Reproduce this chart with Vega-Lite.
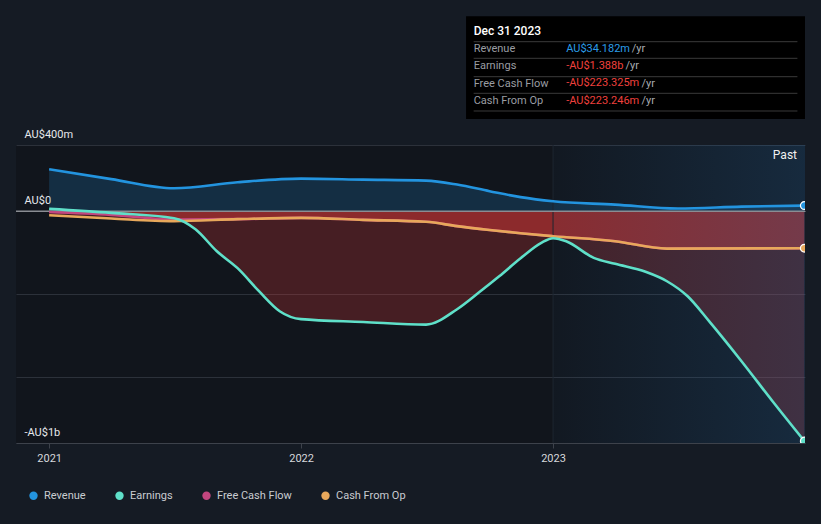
{
  "$schema": "https://vega.github.io/schema/vega-lite/v6.json",
  "width": 789,
  "height": 298,
  "autosize": {"type": "none"},
  "padding": {"left": 16, "top": 145, "right": 16, "bottom": 81},
  "background": "#151b24",
  "view": {"fill": "#11151c", "stroke": null},
  "config": {"font": "Roboto"},
  "datasets": {
    "series": [
      {"date": "2021-01-01", "series": "Free Cash Flow", "value": -5000000},
      {"date": "2021-04-01", "series": "Free Cash Flow", "value": -22000000},
      {"date": "2021-07-01", "series": "Free Cash Flow", "value": -50000000},
      {"date": "2021-10-01", "series": "Free Cash Flow", "value": -48000000},
      {"date": "2022-01-01", "series": "Free Cash Flow", "value": -40000000},
      {"date": "2022-04-01", "series": "Free Cash Flow", "value": -52000000},
      {"date": "2022-07-01", "series": "Free Cash Flow", "value": -64000000},
      {"date": "2022-08-15", "series": "Free Cash Flow", "value": -90000000},
      {"date": "2022-10-01", "series": "Free Cash Flow", "value": -113000000},
      {"date": "2022-11-15", "series": "Free Cash Flow", "value": -133000000},
      {"date": "2023-01-01", "series": "Free Cash Flow", "value": -151000000},
      {"date": "2023-04-01", "series": "Free Cash Flow", "value": -181000000},
      {"date": "2023-06-15", "series": "Free Cash Flow", "value": -226000000},
      {"date": "2023-12-31", "series": "Free Cash Flow", "value": -223325000},
      {"date": "2021-01-01", "series": "Cash From Op", "value": -24000000},
      {"date": "2021-04-01", "series": "Cash From Op", "value": -44000000},
      {"date": "2021-07-01", "series": "Cash From Op", "value": -60000000},
      {"date": "2021-10-01", "series": "Cash From Op", "value": -48000000},
      {"date": "2022-01-01", "series": "Cash From Op", "value": -40000000},
      {"date": "2022-04-01", "series": "Cash From Op", "value": -52000000},
      {"date": "2022-07-01", "series": "Cash From Op", "value": -64000000},
      {"date": "2022-08-15", "series": "Cash From Op", "value": -90000000},
      {"date": "2022-10-01", "series": "Cash From Op", "value": -113000000},
      {"date": "2022-11-15", "series": "Cash From Op", "value": -133000000},
      {"date": "2023-01-01", "series": "Cash From Op", "value": -151000000},
      {"date": "2023-04-01", "series": "Cash From Op", "value": -181000000},
      {"date": "2023-06-15", "series": "Cash From Op", "value": -226000000},
      {"date": "2023-12-31", "series": "Cash From Op", "value": -223246000},
      {"date": "2021-01-01", "series": "Earnings", "value": 14000000},
      {"date": "2021-04-01", "series": "Earnings", "value": -10000000},
      {"date": "2021-07-01", "series": "Earnings", "value": -42000000},
      {"date": "2021-08-01", "series": "Earnings", "value": -109000000},
      {"date": "2021-09-01", "series": "Earnings", "value": -242000000},
      {"date": "2021-10-01", "series": "Earnings", "value": -344000000},
      {"date": "2021-11-01", "series": "Earnings", "value": -483000000},
      {"date": "2021-12-01", "series": "Earnings", "value": -604000000},
      {"date": "2022-01-01", "series": "Earnings", "value": -652000000},
      {"date": "2022-04-01", "series": "Earnings", "value": -669000000},
      {"date": "2022-07-01", "series": "Earnings", "value": -685000000},
      {"date": "2022-08-15", "series": "Earnings", "value": -592000000},
      {"date": "2022-09-15", "series": "Earnings", "value": -493000000},
      {"date": "2022-10-15", "series": "Earnings", "value": -393000000},
      {"date": "2022-11-15", "series": "Earnings", "value": -284000000},
      {"date": "2022-12-15", "series": "Earnings", "value": -191000000},
      {"date": "2023-01-01", "series": "Earnings", "value": -163000000},
      {"date": "2023-01-20", "series": "Earnings", "value": -181000000},
      {"date": "2023-03-01", "series": "Earnings", "value": -282000000},
      {"date": "2023-04-01", "series": "Earnings", "value": -318000000},
      {"date": "2023-05-15", "series": "Earnings", "value": -366000000},
      {"date": "2023-06-15", "series": "Earnings", "value": -423000000},
      {"date": "2023-07-15", "series": "Earnings", "value": -514000000},
      {"date": "2023-08-15", "series": "Earnings", "value": -664000000},
      {"date": "2023-10-01", "series": "Earnings", "value": -906000000},
      {"date": "2023-11-15", "series": "Earnings", "value": -1148000000},
      {"date": "2023-12-31", "series": "Earnings", "value": -1388000000},
      {"date": "2021-01-01", "series": "Revenue", "value": 253000000},
      {"date": "2021-04-01", "series": "Revenue", "value": 194000000},
      {"date": "2021-07-01", "series": "Revenue", "value": 139000000},
      {"date": "2021-10-01", "series": "Revenue", "value": 175000000},
      {"date": "2022-01-01", "series": "Revenue", "value": 197000000},
      {"date": "2022-04-01", "series": "Revenue", "value": 191000000},
      {"date": "2022-07-01", "series": "Revenue", "value": 185000000},
      {"date": "2022-08-15", "series": "Revenue", "value": 161000000},
      {"date": "2022-10-01", "series": "Revenue", "value": 121000000},
      {"date": "2022-11-15", "series": "Revenue", "value": 85000000},
      {"date": "2023-01-01", "series": "Revenue", "value": 60000000},
      {"date": "2023-04-01", "series": "Revenue", "value": 40000000},
      {"date": "2023-07-01", "series": "Revenue", "value": 16000000},
      {"date": "2023-10-01", "series": "Revenue", "value": 28000000},
      {"date": "2023-12-31", "series": "Revenue", "value": 34182000}
    ],
    "one": [{"k": 1}]
  },
  "layer": [
    {
      "data": {"name": "series"},
      "transform": [{"filter": "datum.series == 'Revenue'"}],
      "mark": {"type": "area", "interpolate": "monotone", "fill": "#2394df", "fillOpacity": 0.2, "clip": true},
      "encoding": {
        "x": {
          "field": "date", "type": "temporal",
          "scale": {"domain": [{"year": 2020, "month": 11, "date": 14}, {"year": 2024, "month": 1, "date": 1}], "nice": false},
          "axis": {
            "title": null, "format": "%Y",
            "values": [{"year": 2021, "month": 1, "date": 1}, {"year": 2022, "month": 1, "date": 1}, {"year": 2023, "month": 1, "date": 1}],
            "grid": false, "domainColor": "#3d424b", "tickColor": "#3d424b", "tickSize": 5,
            "labelColor": "#d6d8dc", "labelFontSize": 11, "labelPadding": 4
          }
        },
        "y": {
          "field": "value", "type": "quantitative",
          "scale": {"domain": [-1400000000, 400000000], "nice": false, "zero": false},
          "axis": {
            "title": null, "domain": false, "ticks": false, "tickSize": 0,
            "values": [400000000, 0, -500000000, -1000000000, -1400000000],
            "labelExpr": "datum.value == 400000000 ? 'AU$400m' : datum.value == 0 ? 'AU$0' : datum.value == -1400000000 ? '-AU$1b' : ''",
            "labelAlign": "left", "labelBaseline": "alphabetic", "labelPadding": -8, "labelOffset": -8,
            "labelColor": "#e6e8eb", "labelFontSize": 11,
            "gridColor": {"condition": {"test": "datum.value == 0", "value": "#8a8d93"}, "value": "#2c313a"}
          }
        },
        "y2": {"datum": 0}
      }
    },
    {
      "data": {"name": "series"},
      "transform": [{"filter": "datum.series != 'Revenue'"}],
      "mark": {"type": "area", "interpolate": "monotone", "fill": "#e63a38", "fillOpacity": 0.25, "clip": true},
      "encoding": {
        "x": {"field": "date", "type": "temporal"},
        "y": {"field": "value", "type": "quantitative"},
        "y2": {"datum": 0},
        "detail": {"field": "series"}
      }
    },
    {
      "data": {"name": "one"},
      "mark": {
        "type": "rect", "clip": true,
        "fill": {"x1": 0, "y1": 0, "x2": 1, "y2": 0, "gradient": "linear",
          "stops": [{"offset": 0, "color": "rgba(40,110,170,0.04)"}, {"offset": 1, "color": "rgba(40,110,170,0.24)"}]}
      },
      "encoding": {
        "x": {"datum": {"year": 2023, "month": 1, "date": 1}, "type": "temporal"},
        "x2": {"datum": {"year": 2024, "month": 1, "date": 1}},
        "y": {"datum": 400000000, "type": "quantitative"},
        "y2": {"datum": -1400000000}
      }
    },
    {
      "data": {"name": "one"},
      "mark": {"type": "rule", "color": "#1d2631", "strokeWidth": 1},
      "encoding": {"x": {"datum": {"year": 2023, "month": 1, "date": 1}, "type": "temporal"}}
    },
    {
      "data": {"name": "one"},
      "mark": {"type": "rule", "color": "#8a8d93", "strokeWidth": 1.5},
      "encoding": {"y": {"datum": 0, "type": "quantitative"}}
    },
    {
      "data": {"name": "series"},
      "mark": {"type": "line", "interpolate": "monotone", "strokeWidth": 2.6, "clip": true},
      "encoding": {
        "x": {"field": "date", "type": "temporal"},
        "y": {"field": "value", "type": "quantitative"},
        "color": {
          "field": "series", "type": "nominal",
          "scale": {"domain": ["Revenue", "Earnings", "Free Cash Flow", "Cash From Op"], "range": ["#2394df", "#5fe0c9", "#c2467f", "#e8a85b"]},
          "legend": {
            "title": null, "orient": "none", "direction": "horizontal", "columns": 4,
            "legendX": 12, "legendY": 345, "symbolType": "circle", "symbolSize": 70,
            "symbolStrokeWidth": 0, "labelColor": "#c9ccd1", "labelFontSize": 11,
            "labelOffset": 5, "columnPadding": 28
          }
        }
      }
    },
    {
      "data": {"name": "series"},
      "transform": [{"filter": "year(datum.date) == 2023 && month(datum.date) == 11 && date(datum.date) == 31 && datum.series != 'Free Cash Flow'"}],
      "mark": {"type": "point", "filled": true, "size": 60, "stroke": "#ffffff", "strokeWidth": 1.2, "opacity": 1, "clip": true},
      "encoding": {
        "x": {"field": "date", "type": "temporal"},
        "y": {"field": "value", "type": "quantitative"},
        "fill": {"field": "series", "type": "nominal", "legend": null, "scale": {"domain": ["Revenue", "Earnings", "Free Cash Flow", "Cash From Op"], "range": ["#2394df", "#5fe0c9", "#c2467f", "#e8a85b"]}}
      }
    },
    {
      "data": {"name": "one"},
      "mark": {"type": "text", "text": "Past", "align": "right", "baseline": "top", "dx": -8, "dy": 5, "fontSize": 12, "color": "#f0f0f0"},
      "encoding": {"x": {"datum": {"year": 2024, "month": 1, "date": 1}, "type": "temporal"}, "y": {"datum": 400000000, "type": "quantitative"}}
    },
    {
      "data": {"name": "one"},
      "mark": {"type": "rect", "fill": "#000000", "clip": false},
      "encoding": {
        "x": {"datum": {"year": 2022, "month": 8, "date": 28}, "type": "temporal"},
        "x2": {"datum": {"year": 2024, "month": 1, "date": 1}},
        "y": {"datum": 1177000000, "type": "quantitative"},
        "y2": {"datum": 557000000}
      }
    },
    {
      "data": {"name": "one"},
      "mark": {"type": "rule", "color": "#3a3a3a", "strokeWidth": 1, "clip": false},
      "encoding": {"x": {"datum": {"year": 2022, "month": 9, "date": 8}, "type": "temporal"}, "x2": {"datum": {"year": 2023, "month": 12, "date": 21}}, "y": {"datum": 1024000000, "type": "quantitative"}}
    },
    {
      "data": {"name": "one"},
      "mark": {"type": "rule", "color": "#3a3a3a", "strokeWidth": 1, "clip": false},
      "encoding": {"x": {"datum": {"year": 2022, "month": 9, "date": 8}, "type": "temporal"}, "x2": {"datum": {"year": 2023, "month": 12, "date": 21}}, "y": {"datum": 923700000, "type": "quantitative"}}
    },
    {
      "data": {"name": "one"},
      "mark": {"type": "rule", "color": "#3a3a3a", "strokeWidth": 1, "clip": false},
      "encoding": {"x": {"datum": {"year": 2022, "month": 9, "date": 8}, "type": "temporal"}, "x2": {"datum": {"year": 2023, "month": 12, "date": 21}}, "y": {"datum": 812600000, "type": "quantitative"}}
    },
    {
      "data": {"name": "one"},
      "mark": {"type": "rule", "color": "#3a3a3a", "strokeWidth": 1, "clip": false},
      "encoding": {"x": {"datum": {"year": 2022, "month": 9, "date": 8}, "type": "temporal"}, "x2": {"datum": {"year": 2023, "month": 12, "date": 21}}, "y": {"datum": 712300000, "type": "quantitative"}}
    },
    {
      "data": {"name": "one"},
      "mark": {"type": "rule", "color": "#3a3a3a", "strokeWidth": 1, "clip": false},
      "encoding": {"x": {"datum": {"year": 2022, "month": 9, "date": 8}, "type": "temporal"}, "x2": {"datum": {"year": 2023, "month": 12, "date": 21}}, "y": {"datum": 605400000, "type": "quantitative"}}
    },
    {
      "data": {"name": "one"},
      "mark": {"type": "text", "text": "Dec 31 2023", "align": "left", "baseline": "middle", "fontSize": 12, "fontWeight": 500, "color": "#ffffff", "clip": false},
      "encoding": {"x": {"datum": {"year": 2022, "month": 9, "date": 8}, "type": "temporal"}, "y": {"datum": 1088600000, "type": "quantitative"}}
    },
    {
      "data": {"name": "one"},
      "mark": {"type": "text", "text": ["Revenue", "Earnings", "Free Cash Flow", "Cash From Op"], "lineHeight": 17.3, "align": "left", "baseline": "middle", "fontSize": 11, "color": "#9a9da2", "clip": false},
      "encoding": {"x": {"datum": {"year": 2022, "month": 9, "date": 8}, "type": "temporal"}, "y": {"datum": 979900000, "type": "quantitative"}}
    },
    {
      "data": {"name": "one"},
      "mark": {"type": "text", "text": "AU$34.182m", "align": "left", "baseline": "middle", "fontSize": 11, "color": "#2b9de8", "clip": false},
      "encoding": {"x": {"datum": {"year": 2023, "month": 1, "date": 20}, "type": "temporal"}, "y": {"datum": 979900000, "type": "quantitative"}}
    },
    {
      "data": {"name": "one"},
      "mark": {"type": "text", "text": ["-AU$1.388b", "-AU$223.325m", "-AU$223.246m"], "lineHeight": 17.3, "align": "left", "baseline": "middle", "fontSize": 11, "color": "#f0403d", "clip": false},
      "encoding": {"x": {"datum": {"year": 2023, "month": 1, "date": 20}, "type": "temporal"}, "y": {"datum": 877200000, "type": "quantitative"}}
    },
    {
      "data": {"name": "one"},
      "mark": {"type": "text", "text": "/yr", "align": "left", "baseline": "middle", "fontSize": 11, "color": "#a8abb0", "clip": false},
      "encoding": {"x": {"datum": {"year": 2023, "month": 4, "date": 25}, "type": "temporal"}, "y": {"datum": 979900000, "type": "quantitative"}}
    },
    {
      "data": {"name": "one"},
      "mark": {"type": "text", "text": "/yr", "align": "left", "baseline": "middle", "fontSize": 11, "color": "#a8abb0", "clip": false},
      "encoding": {"x": {"datum": {"year": 2023, "month": 4, "date": 16}, "type": "temporal"}, "y": {"datum": 877200000, "type": "quantitative"}}
    },
    {
      "data": {"name": "one"},
      "mark": {"type": "text", "text": ["/yr", "/yr"], "lineHeight": 17.3, "align": "left", "baseline": "middle", "fontSize": 11, "color": "#a8abb0", "clip": false},
      "encoding": {"x": {"datum": {"year": 2023, "month": 5, "date": 9}, "type": "temporal"}, "y": {"datum": 768500000, "type": "quantitative"}}
    }
  ]
}
